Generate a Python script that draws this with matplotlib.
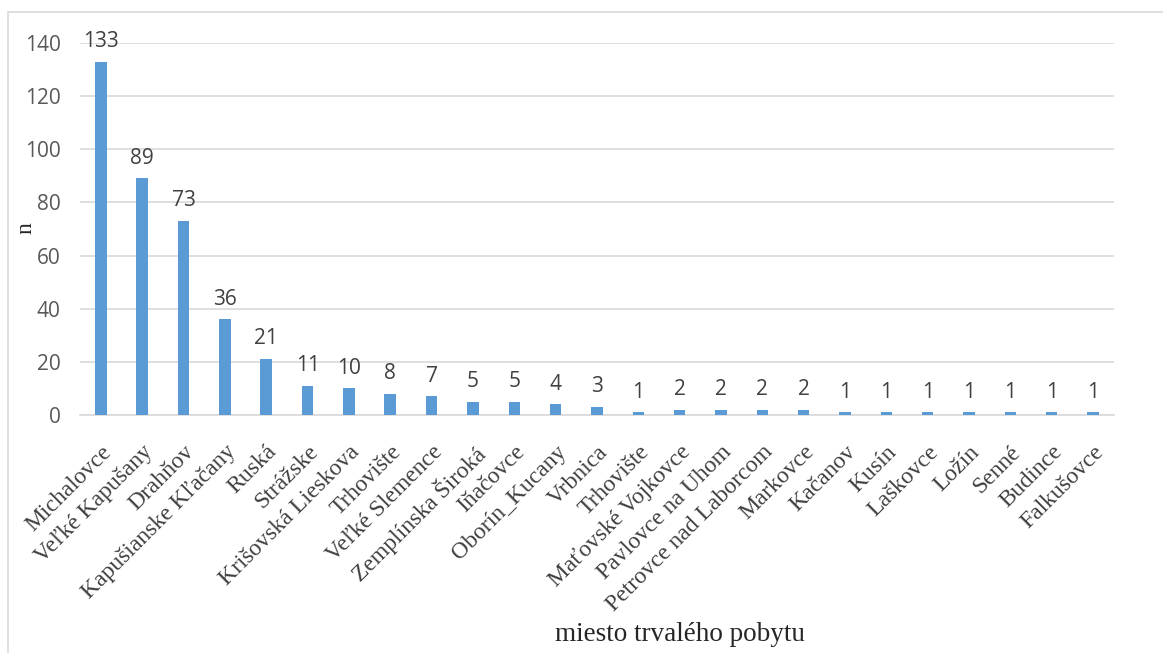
import matplotlib.pyplot as plt
from matplotlib.patches import Rectangle
from matplotlib.transforms import ScaledTranslation

# data
places = [
    "Michalovce", "Veľké Kapušany", "Drahňov", "Kapušianske Kľačany", "Ruská",
    "Strážske", "Krišovská Lieskova", "Trhovište", "Veľké Slemence",
    "Zemplínska Široká", "Iňačovce", "Oborín_Kucany", "Vrbnica", "Trhovište",
    "Maťovské Vojkovce", "Pavlovce na Uhom", "Petrovce nad Laborcom", "Markovce",
    "Kačanov", "Kusín", "Laškovce", "Ložín", "Senné", "Budince", "Falkušovce",
]
counts = [133, 89, 73, 36, 21, 11, 10, 8, 7, 5, 5, 4, 3, 1, 2, 2, 2, 2,
          1, 1, 1, 1, 1, 1, 1]
y_ticks = [0, 20, 40, 60, 80, 100, 120, 140]

BAR_COLOR = "#5B9BD5"
GRID_COLOR = "#D9D9D9"
SERIF = "Liberation Serif"
SANS = "Open Sans"

fig = plt.figure(figsize=(11.63, 6.53), dpi=100)
ax = fig.add_axes([0.069, 0.3645, 0.8886, 0.5697])

x = range(len(places))
ax.bar(x, counts, width=0.28, color=BAR_COLOR, zorder=3)

for xi, v in zip(x, counts):
    ax.annotate(str(v), (xi, v), xytext=(0, 7), textcoords="offset points",
                ha="center", va="bottom", fontsize=15, color="#404040",
                family=SANS)

ax.set_xlim(-0.5, len(places) - 0.5)
ax.set_ylim(0, 140)
ax.set_yticks(y_ticks)
ax.set_yticklabels([str(t) for t in y_ticks], fontsize=15, color="#595959",
                   family=SANS)
ax.grid(axis="y", color=GRID_COLOR, linewidth=1.2, zorder=0)
ax.set_xticks(list(x))
ax.set_xticklabels(places, rotation=45, ha="right", rotation_mode="anchor",
                   fontsize=17, color="#404040", family=SERIF)
shift = ScaledTranslation(-10 / 100, 0, fig.dpi_scale_trans)
for lbl in ax.get_xticklabels():
    lbl.set_transform(lbl.get_transform() + shift)
ax.tick_params(axis="both", length=0)
ax.tick_params(axis="x", pad=19)
ax.tick_params(axis="y", pad=14)
for s in ["top", "right", "left"]:
    ax.spines[s].set_visible(False)
ax.spines["bottom"].set_color(GRID_COLOR)
ax.spines["bottom"].set_linewidth(1.2)

fig.text(0.022, 0.65, "n", rotation=90, ha="center", va="center",
         fontsize=17, family=SERIF, color="#262626")
fig.text(0.585, 0.028, "miesto trvalého pobytu", ha="center", va="center",
         fontsize=19.5, family=SERIF, color="#262626")

fig.patches.append(Rectangle((0.007, -0.01), 1.0, 0.991, transform=fig.transFigure,
                             fill=False, edgecolor="#D9D9D9", linewidth=1.2))

fig.savefig("out.png", dpi=100)
